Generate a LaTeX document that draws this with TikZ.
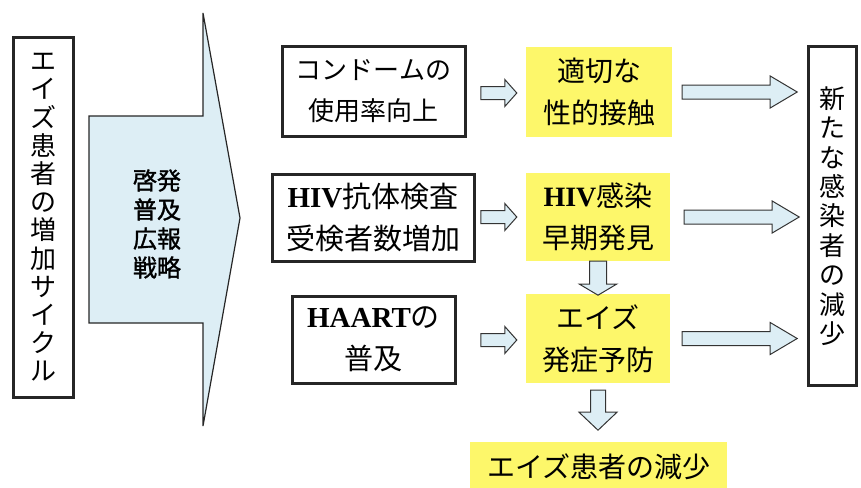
\documentclass[tikz,border=0pt]{standalone}
\usepackage{fontspec}
\setmainfont{Noto Sans CJK JP}
\newfontfamily\jpb{Noto Sans CJK JP}[FakeBold=1.3]
\newfontfamily\tnr{Liberation Serif}
\usetikzlibrary{calc}
\definecolor{abl}{HTML}{DDEEF5}
\definecolor{ayl}{HTML}{FDF76A}
\tikzset{
  x=1pt,y=-1pt,
  blackbox/.style={draw=black!85,line width=3pt,fill=white,inner sep=0pt,align=center},
  yelbox/.style={fill=ayl,inner sep=0pt,align=center},
  barrowstyle/.style={draw=black!80,line width=1pt,fill=abl,line join=miter},
  pics/barrow/.style n args={4}{code={
    \draw[barrowstyle] (0,-#3) -- ({#1-#2},-#3) -- ({#1-#2},-#4) -- (#1,0) -- ({#1-#2},#4) -- ({#1-#2},#3) -- (0,#3) -- cycle;}},
}
\begin{document}
\begin{tikzpicture}
\useasboundingbox (0,0) rectangle (861,487);
% left vertical box
\node[blackbox,minimum width=60,minimum height=359,font=\fontsize{26}{28.2}\selectfont] (left) at (43,217.5)
  {エ\\イ\\ズ\\患\\者\\の\\増\\加\\サ\\イ\\ク\\ル};
% big arrow
\draw[draw=black!85,line width=1.2pt,fill=abl,line join=miter]
  (89,116) -- (203,116) -- (203,13) -- (240,218) -- (203,426) -- (203,323) -- (89,323) -- cycle;
\node[font=\fontsize{24}{29}\jpb,align=center] (strat) at (157,224) {啓発\\普及\\広報\\戦略};
% left column boxes
\node[blackbox,minimum width=183,minimum height=89,font=\fontsize{26}{41}\selectfont] (c1) at (373.5,91.5)
  {コンドームの\\使用率向上};
\node[blackbox,minimum width=202,minimum height=87,font=\fontsize{29}{42}\selectfont] (c2) at (373,217.5)
  {{\tnr\bfseries HIV}抗体検査\\受検者数増加};
\node[blackbox,minimum width=163,minimum height=87,font=\fontsize{29}{42}\selectfont] (c3) at (373.5,339.5)
  {{\tnr\bfseries HAART}の\\普及};
% yellow boxes
\node[yelbox,minimum width=146,minimum height=90,font=\fontsize{28}{42}\selectfont] (y1) at (599,92)
  {適切な\\性的接触};
\node[yelbox,minimum width=144,minimum height=88,font=\fontsize{28}{42}\selectfont] (y2) at (598,217)
  {{\tnr\bfseries HIV}感染\\早期発見};
\node[yelbox,minimum width=144,minimum height=89,font=\fontsize{28}{42}\selectfont] (y3) at (598,338.5)
  {エイズ\\発症予防};
\node[yelbox,minimum width=257,minimum height=50,anchor=north west,font=\fontsize{28}{34}\selectfont] (y4) at (470,442)
  {エイズ患者の減少};
% right vertical box
\node[blackbox,minimum width=48,minimum height=338,font=\fontsize{26}{29.4}\selectfont] (right) at (832,216)
  {新\\た\\な\\感\\染\\者\\の\\減\\少};
% small horizontal arrows
\pic at ($(y1.west)+(-45,1)$) {barrow={36}{12}{6.5}{13.5}};
\pic at ($(y2.west)+(-45,0)$) {barrow={36}{12}{6.5}{13.5}};
\pic at ($(y3.west)+(-45,1.5)$) {barrow={36}{12}{6.5}{13.5}};
% right arrows
\pic at ($(y1.east)+(10,0)$) {barrow={115}{27}{7}{16}};
\pic at ($(y2.east)+(14,0)$) {barrow={115}{27}{7}{16}};
\pic at ($(y3.east)+(12,0)$) {barrow={115}{27}{7}{16}};
% down arrows
\pic[rotate=-90] at (y2.south) {barrow={34}{11}{8.5}{18.5}};
\pic[rotate=-90] at ($(y3.south)+(0,7)$) {barrow={40}{18}{7.5}{19}};
\end{tikzpicture}
\end{document}
